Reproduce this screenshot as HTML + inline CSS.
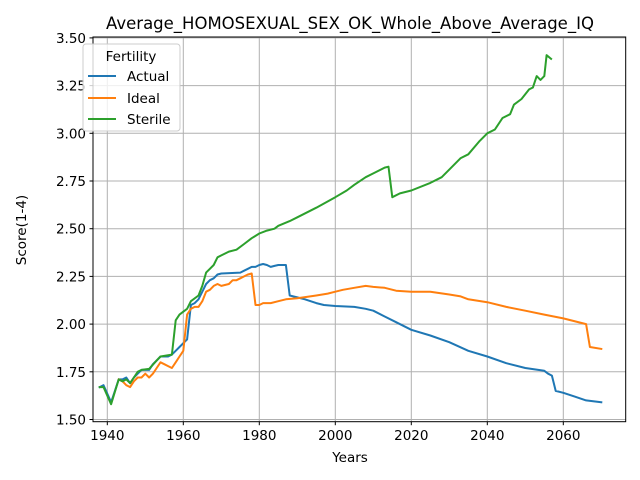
<!DOCTYPE html>
<html><head><meta charset="utf-8"><style>
body{margin:0;background:#fff;}
svg{display:block;font-family:"DejaVu Sans","Liberation Sans",sans-serif;}
</style></head><body>
<svg id="chart" width="640" height="480" viewBox="0 0 640 480" xmlns="http://www.w3.org/2000/svg">
<rect width="640" height="480" fill="#fff"/>
<g id="grid"></g>
<g id="series"></g>
<rect x="93" y="37" width="532.7" height="384.7" fill="none" stroke="#000" stroke-width="1"/>
<g id="xticks"></g>
<g id="yticks"></g>
<text x="350" y="29" font-size="16.5" text-anchor="middle">Average_HOMOSEXUAL_SEX_OK_Whole_Above_Average_IQ</text>
<text x="350" y="462" font-size="13.5" text-anchor="middle">Years</text>
<text x="26" y="230" font-size="13.5" text-anchor="middle" transform="rotate(-90 26 230)">Score(1-4)</text>
<g>
<rect x="83" y="44" width="97" height="87" rx="3" fill="#fff" fill-opacity="0.8" stroke="#ccc"/>
<text x="131" y="61" font-size="13.5" text-anchor="middle">Fertility</text>
<line x1="88" y1="76" x2="116" y2="76" stroke="#1f77b4" stroke-width="2"/>
<text x="127" y="81" font-size="13.5">Actual</text>
<line x1="88" y1="98" x2="116" y2="98" stroke="#ff7f0e" stroke-width="2"/>
<text x="127" y="103" font-size="13.5">Ideal</text>
<line x1="88" y1="119" x2="116" y2="119" stroke="#2ca02c" stroke-width="2"/>
<text x="127" y="124" font-size="13.5">Sterile</text>
</g>
</svg>
<script>
const xTicks=[1940,1960,1980,2000,2020,2040,2060];
const yTicks=[1.50,1.75,2.00,2.25,2.50,2.75,3.00,3.25,3.50];
const actualYears=[1938,1939,1941,1942,1943,1944,1945,1946,1947,1948,1949,1950,1951,1952,1953,1954,1955,1956,1957,1958,1959,1960,1961,1962,1963,1964,1965,1966,1967,1968,1969,1970,1975,1976,1977,1978,1979,1980,1981,1982,1983,1984,1985,1986,1987,1988,1990,1992,1995,1997,2000,2005,2008,2010,2013,2016,2020,2025,2030,2035,2040,2045,2050,2055,2056,2057,2058,2060,2063,2066,2070];
const actualValues=[1.67,1.68,1.59,1.65,1.71,1.71,1.72,1.69,1.72,1.74,1.76,1.76,1.76,1.79,1.81,1.83,1.83,1.83,1.84,1.86,1.88,1.90,1.92,2.10,2.11,2.13,2.17,2.21,2.23,2.24,2.26,2.265,2.27,2.28,2.29,2.30,2.30,2.31,2.315,2.31,2.30,2.305,2.31,2.31,2.31,2.15,2.14,2.13,2.11,2.10,2.095,2.09,2.08,2.07,2.04,2.01,1.97,1.94,1.905,1.86,1.83,1.795,1.77,1.755,1.74,1.73,1.65,1.64,1.62,1.60,1.59];
const idealYears=[1943,1944,1945,1946,1947,1948,1949,1950,1951,1952,1953,1954,1955,1956,1957,1958,1959,1960,1961,1962,1963,1964,1965,1966,1967,1968,1969,1970,1972,1973,1974,1975,1976,1977,1978,1979,1980,1981,1983,1985,1987,1990,1995,1998,2000,2002,2005,2008,2010,2013,2016,2020,2025,2030,2033,2035,2040,2045,2050,2055,2060,2066,2067,2070];
const idealValues=[1.71,1.70,1.68,1.67,1.70,1.72,1.72,1.74,1.72,1.74,1.77,1.80,1.79,1.78,1.77,1.80,1.83,1.86,2.05,2.08,2.09,2.09,2.12,2.17,2.18,2.20,2.21,2.20,2.21,2.23,2.23,2.24,2.25,2.26,2.265,2.10,2.10,2.11,2.11,2.12,2.13,2.135,2.15,2.16,2.17,2.18,2.19,2.20,2.195,2.19,2.175,2.17,2.17,2.155,2.145,2.13,2.115,2.09,2.07,2.05,2.03,2.00,1.88,1.87];
const sterileYears=[1938,1939,1941,1943,1944,1945,1946,1947,1948,1949,1951,1953,1954,1957,1958,1959,1961,1962,1964,1965,1966,1967,1968,1969,1970,1972,1974,1976,1978,1980,1982,1984,1985,1988,1990,1995,2000,2003,2005,2008,2010,2013,2014,2015,2017,2020,2025,2028,2030,2033,2035,2038,2040,2042,2044,2046,2047,2049,2051,2052,2053,2054,2055,2055.6,2056.8];
const sterileValues=[1.67,1.67,1.58,1.71,1.70,1.71,1.69,1.72,1.75,1.76,1.765,1.81,1.83,1.84,2.02,2.05,2.08,2.12,2.15,2.20,2.27,2.29,2.31,2.35,2.36,2.38,2.39,2.42,2.45,2.475,2.49,2.50,2.515,2.54,2.56,2.61,2.665,2.70,2.73,2.77,2.79,2.82,2.825,2.665,2.685,2.70,2.74,2.77,2.81,2.87,2.89,2.96,3.00,3.02,3.08,3.10,3.15,3.18,3.23,3.24,3.30,3.28,3.30,3.41,3.39];

const NS='http://www.w3.org/2000/svg';
function xs(v){return 107.3+(v-1940)*3.8;}
function ys(v){return 419.5-(v-1.5)*190.8;}
function mk(tag,attrs,parent){const e=document.createElementNS(NS,tag);for(const k in attrs)e.setAttribute(k,attrs[k]);parent.appendChild(e);return e;}
const grid=document.getElementById('grid'),xt=document.getElementById('xticks'),yt=document.getElementById('yticks'),ser=document.getElementById('series');
xTicks.forEach(t=>{const x=xs(t);
 const g=mk('line',{x1:x,x2:x,y1:37,y2:421.7,stroke:'#b0b0b0','stroke-width':1},grid);
 
 
 mk('line',{x1:x,x2:x,y1:421.7,y2:425.2,stroke:'#000'},xt);
 const tx=mk('text',{x:x,y:440,'font-size':13.5,'text-anchor':'middle'},xt);tx.textContent=t;
 
 
});
yTicks.forEach(t=>{const y=ys(t);
 const g=mk('line',{x1:93,x2:625.7,y1:y,y2:y,stroke:'#b0b0b0','stroke-width':1},grid);
 
 
 mk('line',{x1:89.5,x2:93,y1:y,y2:y,stroke:'#000'},yt);
 const tx=mk('text',{x:86,y:y+5,'font-size':13.5,'text-anchor':'end'},yt);tx.textContent=t.toFixed(2);
 
 
});
function line(xv,yv,color,name){
 const p=mk('polyline',{points:xv.map((x,i)=>xs(x).toFixed(1)+','+ys(yv[i]).toFixed(1)).join(' '),fill:'none',stroke:color,'stroke-width':2,'stroke-linejoin':'round','stroke-linecap':'square'},ser);
 
 
}
line(actualYears,actualValues,'#1f77b4','actual-line');
line(idealYears,idealValues,'#ff7f0e','ideal-line');
line(sterileYears,sterileValues,'#2ca02c','sterile-line');
</script>
</body></html>
